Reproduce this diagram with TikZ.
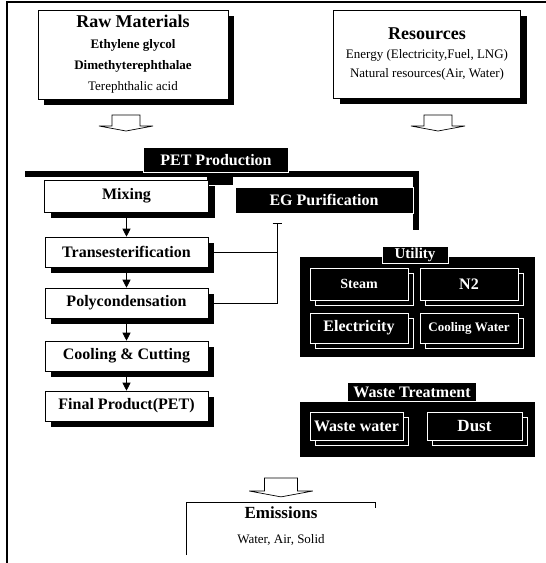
\documentclass[tikz,border=0pt]{standalone}
\usepackage{fontspec}
\setmainfont{Liberation Serif}
\usetikzlibrary{shadows,arrows.meta}

\newcommand{\fsz}[1]{\fontsize{#1}{#1}\selectfont}

\tikzset{
  whitebox/.style={draw=black, fill=white, line width=0.6pt, inner sep=0pt,
    drop shadow={shadow xshift=6pt, shadow yshift=-6pt, fill=black, opacity=1}},
  blackbox/.style={draw=white, fill=black, text=white, line width=0.6pt, inner sep=0pt},
  darkbox/.style={blackbox,
    drop shadow={shadow xshift=5pt, shadow yshift=-5pt, fill=black, draw=white, opacity=1}},
  stepbox/.style={whitebox, minimum width=163pt, minimum height=30pt, font=\fsz{16}\bfseries},
  flowline/.style={line width=0.8pt},
  downarrow/.style={flowline, -{Triangle[width=8pt,length=8pt]}},
  hollowarrow/.pic={\draw[fill=white, line width=0.7pt] (-14,0) -- (14,0) -- (14,11) -- (27,11) -- (0,16) -- (-27,11) -- (-14,11) -- cycle;}
}

\begin{document}
\begin{tikzpicture}[x=1pt, y=-1pt]
\useasboundingbox (0,0) rectangle (546,563);

%% frame
\draw[line width=1.2pt] (546,2) -- (7,2) -- (7,563);

%% inputs
\node[whitebox, minimum width=190pt, minimum height=89pt, align=center,
  font=\fontsize{13}{21}\selectfont] (raw) at (133,54.5)
  {{\fsz{18}\bfseries Raw Materials}\\ \textbf{Ethylene glycol}\\ \textbf{Dimethyterephthalae}\\ Terephthalic acid};
\node[whitebox, minimum width=187pt, minimum height=88pt, align=center,
  font=\fontsize{13}{19}\selectfont] (res) at (427,54)
  {{\fsz{18}\bfseries Resources}\\ Energy (Electricity,Fuel, LNG)\\ Natural resources(Air, Water)};
\pic at (126,115) {hollowarrow};
\pic at (438,115) {hollowarrow};

%% PET production
\fill (25,171) rectangle (419,177);
\fill (413,171) rectangle (419,230);
\fill (207,177) rectangle (233,185);
\node[blackbox, minimum width=145pt, minimum height=25pt, font=\fsz{16}\bfseries] (pet) at (216,160) {PET Production};
\node[whitebox, minimum width=164pt, minimum height=32pt, font=\fsz{16}\bfseries] (mixing) at (126.5,196) {Mixing};
\node[blackbox, minimum width=178pt, minimum height=26pt, font=\fsz{16}\bfseries] (egpur) at (324,200) {EG Purification};

\node[stepbox] (trans) at (126.5,252) {Transesterification};
\node[stepbox] (poly) at (126.5,303) {Polycondensation};
\node[stepbox] (cool) at (126.5,356) {Cooling \& Cutting};
\node[stepbox] (final) at (126.5,406) {Final Product(PET)};

%%% edges
\draw[downarrow] (mixing) -- (trans);
\draw[downarrow] (trans) -- (poly);
\draw[downarrow] (poly) -- (cool);
\draw[downarrow] (cool) -- (final);
\coordinate (egin) at (277,223);
\draw[flowline] (trans.east) -- (trans.east -| egin);
\draw[flowline, -{Bar[width=9pt, line width=1.4pt]}] (poly.east) -| (egin);

%% utility
\fill (300,257) rectangle (535,357);
\node[blackbox, minimum width=66pt, minimum height=17pt, font=\fsz{15}\bfseries] (utility) at (415,255) {Utility};
\node[darkbox, minimum width=98pt, minimum height=32pt, font=\fsz{14}\bfseries] (steam) at (359,284) {Steam};
\node[darkbox, minimum width=98pt, minimum height=32pt, font=\fsz{16}\bfseries] (ntwo) at (469,284) {N2};
\node[darkbox, minimum width=98pt, minimum height=30pt, font=\fsz{16}\bfseries] (elec) at (359,328) {Electricity};
\node[darkbox, minimum width=98pt, minimum height=30pt, font=\fsz{13}\bfseries] (cwater) at (469,328) {Cooling Water};

%% waste treatment
\fill (300,402) rectangle (535,457);
\node[blackbox, minimum width=129pt, minimum height=19pt, font=\fsz{16}\bfseries] (waste) at (412,392) {Waste Treatment};
\node[darkbox, minimum width=93pt, minimum height=28pt, font=\fsz{16}\bfseries] (wwater) at (356.5,426) {Waste water};
\node[darkbox, minimum width=95pt, minimum height=28pt, font=\fsz{17}\bfseries] (dust) at (474.5,426) {Dust};

%% emissions
\pic[scale=1.18] at (281,478) {hollowarrow};
\node[align=center, font=\fontsize{13}{25}\selectfont] (emis) at (281,526)
  {{\fsz{17}\bfseries Emissions}\\ Water, Air, Solid};
\draw[line width=0.8pt] (186,555) -- (186,502) -- (375,502) -- (375,508);

\end{tikzpicture}
\end{document}
